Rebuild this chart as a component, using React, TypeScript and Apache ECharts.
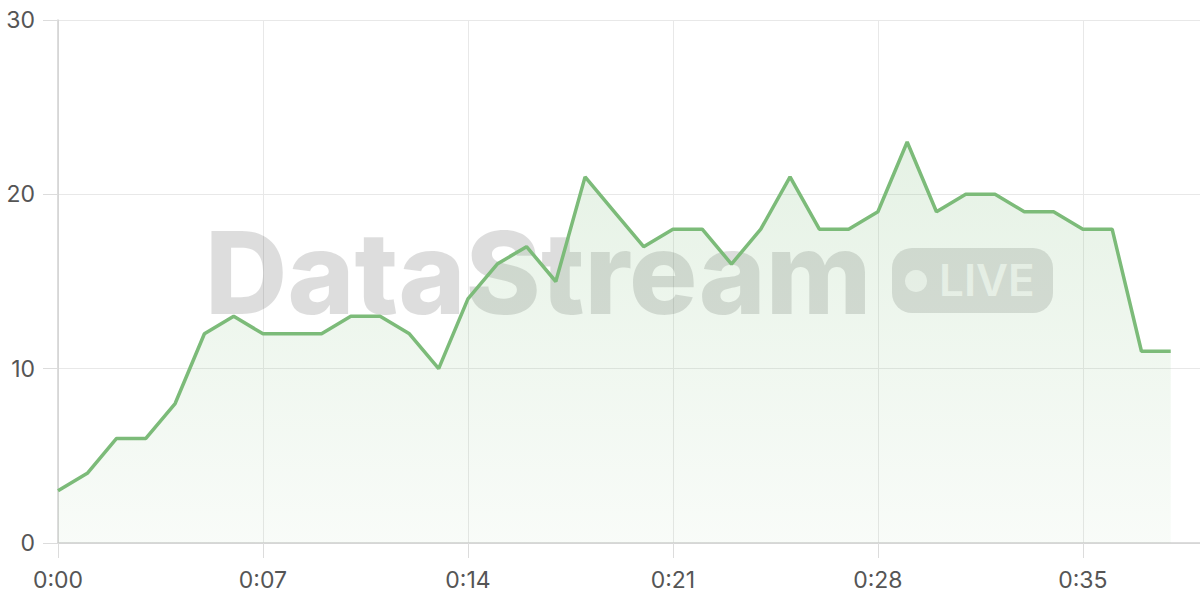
import React, { useEffect, useRef } from "react";
import * as echarts from "echarts";

const seconds: number[] = Array.from({ length: 40 }, (_, i) => i);
const categories: string[] = seconds.map((s) => `0:${s < 10 ? "0" + s : s}`);
const values: number[] = [
  3, 4, 6, 6, 8, 12, 13, 12, 12, 12, 13, 13, 12, 10, 14, 16, 17, 15, 21, 19,
  17, 18, 18, 16, 18, 21, 18, 18, 19, 23, 19, 20, 20, 19, 19, 18, 18, 11, 11,
];
const yTicks: number[] = [0, 10, 20, 30];
const watermarkTitle = "DataStream";
const watermarkBadge = "LIVE";

export default function App() {
  const ref = useRef<HTMLDivElement>(null);
  useEffect(() => {
    if (!ref.current) return;
    const chart = echarts.init(ref.current, undefined, { renderer: "svg" });
    chart.setOption({
      animation: false,
      grid: { left: 58, right: 0, top: 20, bottom: 57 },
      xAxis: {
        type: "category",
        data: categories,
        boundaryGap: false,
        axisLine: { lineStyle: { color: "#d0d0d0", width: 1.5 } },
        axisTick: { show: true, length: 15, interval: 6, lineStyle: { color: "#dcdcdc" } },
        axisLabel: {
          interval: 6,
          color: "#555",
          fontSize: 23,
          fontFamily: "Inter",
          margin: 25,
        },
        splitLine: { show: true, interval: 6, lineStyle: { color: "#e8e8e8", width: 1 } },
      },
      yAxis: {
        type: "value",
        min: yTicks[0],
        max: yTicks[yTicks.length - 1],
        interval: 10,
        axisLine: { show: true, lineStyle: { color: "#d0d0d0", width: 1.5 } },
        axisTick: { show: true, length: 15, lineStyle: { color: "#dcdcdc" } },
        axisLabel: { color: "#555", fontSize: 23, fontFamily: "Inter", margin: 23 },
        splitLine: { lineStyle: { color: "#e8e8e8", width: 1 } },
      },
      graphic: [
        {
          type: "text",
          z: 1,
          x: 205,
          y: 272,
          style: {
            text: watermarkTitle,
            fontSize: 114,
            fontWeight: 800,
            fontFamily: "Inter",
            fill: "rgba(0,0,0,0.135)",
            align: "left",
            verticalAlign: "middle",
          },
        },
        {
          type: "rect",
          z: 1,
          shape: { x: 892, y: 248, width: 161, height: 65, r: 20 },
          style: { fill: "rgba(0,0,0,0.125)" },
        },
        {
          type: "circle",
          z: 1,
          shape: { cx: 916, cy: 281, r: 11 },
          style: { fill: "rgba(255,255,255,0.75)" },
        },
        {
          type: "text",
          z: 1,
          x: 939,
          y: 280,
          style: {
            text: watermarkBadge,
            fontSize: 44,
            fontWeight: 600,
            fontFamily: "Inter",
            fill: "rgba(255,255,255,0.75)",
            align: "left",
            verticalAlign: "middle",
          },
        },
      ],
      series: [
        {
          type: "line",
          data: values,
          z: 3,
          symbol: "none",
          lineStyle: { color: "#7cbb79", width: 3.5 },
          areaStyle: {
            color: new echarts.graphic.LinearGradient(0, 0, 0, 1, [
              { offset: 0, color: "rgba(124,187,121,0.28)" },
              { offset: 1, color: "rgba(124,187,121,0.07)" },
            ]),
          },
        },
      ],
    });
    return () => chart.dispose();
  }, []);
  return (
    <div
      ref={ref}
      style={{ position: "absolute", left: 0, top: 0, width: 1200, height: 600, background: "#fff" }}
    />
  );
}
